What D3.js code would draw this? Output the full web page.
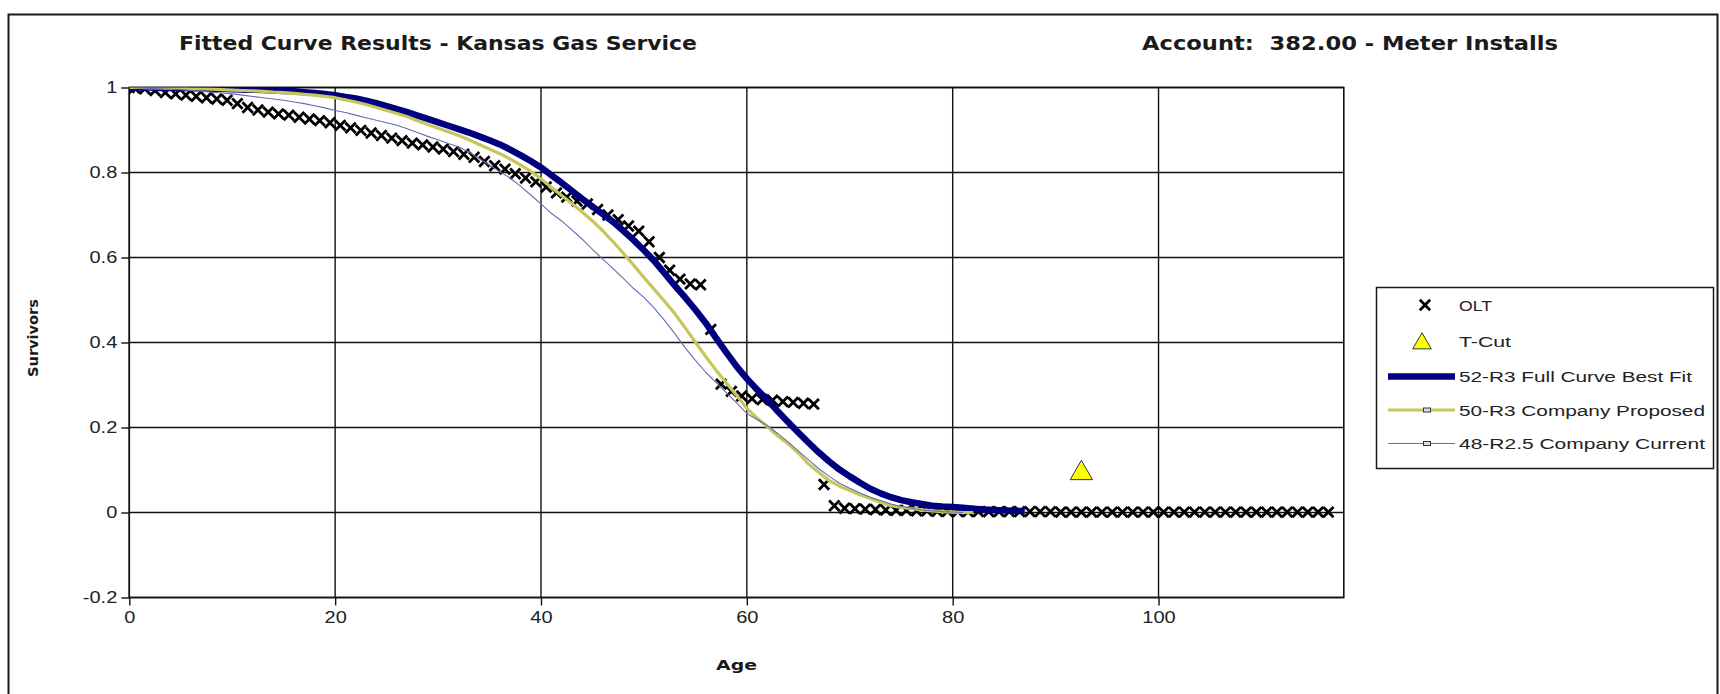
<!DOCTYPE html>
<html>
<head>
<meta charset="utf-8">
<script src="https://cdn.jsdelivr.net/npm/d3@7"></script>
<style>
  html, body { margin: 0; padding: 0; background: #ffffff; }
  svg { display: block; }
  text { white-space: pre; }
</style>
</head>
<body>
<svg id="chart" width="1720" height="694"></svg>
<script>
// ---- Observed life table (OLT) ----
const oltAges = [0, 0.5, 1.5, 2.5, 3.5, 4.5, 5.5, 6.5, 7.5, 8.5, 9.5,
  10.5, 11.5, 12.5, 13.5, 14.5, 15.5, 16.5, 17.5, 18.5, 19.5,
  20.5, 21.5, 22.5, 23.5, 24.5, 25.5, 26.5, 27.5, 28.5, 29.5,
  30.5, 31.5, 32.5, 33.5, 34.5, 35.5, 36.5, 37.5, 38.5, 39.5,
  40.5, 41.5, 42.5, 43.5, 44.5, 45.5, 46.5, 47.5, 48.5, 49.5,
  50.5, 51.5, 52.5, 53.5, 54.5, 55.5, 56.5, 57.5, 58.5, 59.5,
  60.5, 61.5, 62.5, 63.5, 64.5, 65.5, 66.5, 67.5, 68.5, 69.5,
  70.5, 71.5, 72.5, 73.5, 74.5, 75.5, 76.5, 77.5, 78.5, 79.5,
  80.5, 81.5, 82.5, 83.5, 84.5, 85.5, 86.5, 87.5, 88.5, 89.5,
  90.5, 91.5, 92.5, 93.5, 94.5, 95.5, 96.5, 97.5, 98.5, 99.5,
  100.5, 101.5, 102.5, 103.5, 104.5, 105.5, 106.5, 107.5, 108.5, 109.5,
  110.5, 111.5, 112.5, 113.5, 114.5, 115.5, 116.5];
const oltSurvivors = [1.000, 0.999, 0.997, 0.993, 0.988, 0.985, 0.982, 0.979, 0.976, 0.973, 0.970,
  0.962, 0.953, 0.947, 0.942, 0.938, 0.935, 0.930, 0.926, 0.922, 0.917,
  0.911, 0.905, 0.899, 0.893, 0.887, 0.881, 0.875, 0.869, 0.865, 0.860,
  0.855, 0.849, 0.843, 0.836, 0.826, 0.816, 0.808, 0.797, 0.787, 0.778,
  0.766, 0.752, 0.742, 0.733, 0.726, 0.713, 0.700, 0.689, 0.674, 0.662,
  0.637, 0.600, 0.570, 0.549, 0.538, 0.536, 0.431, 0.302, 0.285, 0.274,
  0.268, 0.266, 0.264, 0.261, 0.259, 0.257, 0.255, 0.066, 0.016, 0.010,
  0.009, 0.008, 0.007, 0.006, 0.005, 0.005, 0.004, 0.004, 0.003, 0.003,
  0.002, 0.002, 0.002, 0.002, 0.002, 0.002, 0.002, 0.002, 0.002, 0.002,
  0.001, 0.001, 0.001, 0.001, 0.001, 0.001, 0.001, 0.001, 0.001, 0.001,
  0.001, 0.001, 0.001, 0.001, 0.001, 0.001, 0.001, 0.001, 0.001, 0.001,
  0.001, 0.001, 0.001, 0.001, 0.001, 0.001, 0.001];

// ---- T-Cut point ----
const tcutAges = [92.5];
const tcutSurvivors = [0.10];

// ---- Iowa curves, one value per year of age starting at age 0 ----
const fit52R3 = [1.000, 1.000, 1.000, 0.999, 0.999, 0.999, 0.998, 0.998, 0.997, 0.997,
  0.996, 0.995, 0.995, 0.994, 0.993, 0.992, 0.991, 0.989, 0.987, 0.985,
  0.982, 0.978, 0.974, 0.969, 0.963, 0.956, 0.949, 0.942, 0.934, 0.926,
  0.918, 0.910, 0.902, 0.894, 0.885, 0.876, 0.866, 0.854, 0.841, 0.827,
  0.812, 0.794, 0.776, 0.757, 0.738, 0.720, 0.702, 0.684, 0.663, 0.641,
  0.617, 0.592, 0.563, 0.534, 0.506, 0.477, 0.446, 0.411, 0.377, 0.344,
  0.315, 0.289, 0.265, 0.238, 0.213, 0.188, 0.164, 0.141, 0.120, 0.101,
  0.085, 0.070, 0.056, 0.045, 0.036, 0.029, 0.024, 0.020, 0.016, 0.014,
  0.013, 0.011, 0.009, 0.007, 0.006, 0.005, 0.004, 0.003];
const proposed50R3 = [1.000, 1.000, 0.999, 0.999, 0.998, 0.998, 0.997, 0.997, 0.996, 0.995,
  0.994, 0.993, 0.992, 0.991, 0.989, 0.988, 0.986, 0.984, 0.982, 0.979,
  0.976, 0.971, 0.966, 0.960, 0.953, 0.946, 0.939, 0.931, 0.922, 0.913,
  0.904, 0.896, 0.887, 0.877, 0.866, 0.855, 0.844, 0.832, 0.818, 0.803,
  0.785, 0.765, 0.746, 0.727, 0.707, 0.686, 0.663, 0.637, 0.610, 0.582,
  0.553, 0.525, 0.497, 0.468, 0.435, 0.401, 0.367, 0.335, 0.305, 0.276,
  0.245, 0.222, 0.202, 0.180, 0.162, 0.140, 0.114, 0.094, 0.075, 0.062,
  0.052, 0.042, 0.033, 0.024, 0.016, 0.012, 0.009, 0.006, 0.004, 0.002,
  0.001, 0.000, 0.000];
const current48R25 = [1.000, 0.999, 0.998, 0.997, 0.996, 0.995, 0.993, 0.991, 0.989, 0.987,
  0.985, 0.982, 0.979, 0.976, 0.973, 0.970, 0.966, 0.962, 0.957, 0.952,
  0.946, 0.941, 0.935, 0.929, 0.923, 0.917, 0.911, 0.903, 0.894, 0.885,
  0.877, 0.868, 0.860, 0.848, 0.833, 0.817, 0.802, 0.787, 0.768, 0.747,
  0.726, 0.704, 0.686, 0.665, 0.643, 0.619, 0.596, 0.574, 0.551, 0.527,
  0.506, 0.481, 0.452, 0.421, 0.388, 0.358, 0.330, 0.306, 0.282, 0.258,
  0.233, 0.219, 0.204, 0.186, 0.166, 0.145, 0.124, 0.103, 0.085, 0.069,
  0.057, 0.046, 0.036, 0.028, 0.020, 0.014, 0.010, 0.006, 0.004, 0.002,
  0.001, 0.000];

// ---- Axes ----
const xTicks = [0, 20, 40, 60, 80, 100];
const xTickLabels = ["0", "20", "40", "60", "80", "100"];
const yTicks = [-0.2, 0, 0.2, 0.4, 0.6, 0.8, 1];
const yTickLabels = ["-0.2", "0", "0.2", "0.4", "0.6", "0.8", "1"];

const seriesNames = ["OLT", "T-Cut", "52-R3 Full Curve Best Fit", "50-R3 Company Proposed", "48-R2.5 Company Current"];
const titleLeft = "Fitted Curve Results - Kansas Gas Service";
const titleRight = "Account:  382.00 - Meter Installs";

// ---- Layout ----
const W = 1720, H = 694;
const plot = { left: 129.3, right: 1343.8, top: 87.5, bottom: 597.5 };
const TICKFONT = "'Liberation Sans', Arial, sans-serif";
const BOLDFONT = "'DejaVu Sans', Verdana, sans-serif";
const STRETCH = 1.25;

const svg = d3.select("#chart");
svg.append("rect").attr("width", W).attr("height", H).attr("fill", "#fff");

// outer chart frame
svg.append("rect")
  .attr("x", 8.5).attr("y", 14.5).attr("width", 1709).attr("height", 700)
  .attr("fill", "none").attr("stroke", "#1a1a1a").attr("stroke-width", 2);

const x = d3.scaleLinear().domain([0, 118]).range([plot.left, plot.right]);
const y = d3.scaleLinear().domain([-0.2, 1]).range([plot.bottom, plot.top]);

// gridlines
const grid = svg.append("g").attr("stroke", "#111").attr("stroke-width", 1.4);
grid.selectAll("line.gx").data(xTicks).join("line")
  .attr("x1", d => x(d)).attr("x2", d => x(d))
  .attr("y1", plot.top).attr("y2", plot.bottom);
grid.selectAll("line.gy").data(yTicks).join("line")
  .attr("x1", plot.left).attr("x2", plot.right)
  .attr("y1", d => y(d)).attr("y2", d => y(d));

// plot area border
svg.append("rect")
  .attr("x", plot.left).attr("y", plot.top)
  .attr("width", plot.right - plot.left).attr("height", plot.bottom - plot.top)
  .attr("fill", "none").attr("stroke", "#111").attr("stroke-width", 1.6);

// axes
const xAxis = svg.append("g")
  .attr("transform", `translate(0,${plot.bottom})`)
  .call(d3.axisBottom(x).tickValues(xTicks).tickFormat((d, i) => xTickLabels[i]).tickSize(8).tickPadding(6));
const yAxis = svg.append("g")
  .attr("transform", `translate(${plot.left},0)`)
  .call(d3.axisLeft(y).tickValues(yTicks).tickFormat((d, i) => yTickLabels[i]).tickSize(8).tickPadding(4));
[xAxis, yAxis].forEach(g => {
  g.select(".domain").remove();
  g.selectAll(".tick line").attr("stroke", "#111").attr("stroke-width", 1.4);
  g.selectAll(".tick text")
    .attr("font-family", TICKFONT).attr("font-size", 16).attr("fill", "#222");
});
xAxis.selectAll(".tick text").attr("transform", `scale(${STRETCH},1)`);
yAxis.selectAll(".tick text").attr("transform", `scale(${STRETCH},1)`).attr("x", -12 / STRETCH);

// titles
function label(txt, cx, cy, size, len, anchor) {
  return svg.append("text")
    .attr("x", cx).attr("y", cy)
    .attr("font-family", BOLDFONT).attr("font-weight", "bold")
    .attr("font-size", size).attr("fill", "#1a1a1a")
    .attr("text-anchor", anchor || "start")
    .attr("textLength", len).attr("lengthAdjust", "spacingAndGlyphs")
    .text(txt);
}
label(titleLeft, 179, 50, 19.5, 518);
label(titleRight, 1142, 50, 19.5, 416);
label("Age", 736.5, 670, 14.5, 41, "middle");
svg.append("text")
  .attr("transform", "translate(38,338) rotate(-90)")
  .attr("font-family", BOLDFONT).attr("font-weight", "bold")
  .attr("font-size", 13.5).attr("fill", "#1a1a1a").attr("text-anchor", "middle")
  .attr("textLength", 78).attr("lengthAdjust", "spacingAndGlyphs")
  .text("Survivors");

// clip to plot area
svg.append("clipPath").attr("id", "plotClip")
  .append("rect").attr("x", plot.left).attr("y", plot.top)
  .attr("width", plot.right - plot.left).attr("height", plot.bottom - plot.top);
const marks = svg.append("g").attr("clip-path", "url(#plotClip)");

// OLT markers
const xSym = d3.symbol().type(d3.symbolX).size(72);
const oltData = oltAges.map((a, i) => ({ age: a, v: oltSurvivors[i] }));
marks.append("g").selectAll("path").data(oltData).join("path")
  .attr("transform", d => `translate(${x(d.age)},${y(d.v)})`)
  .attr("d", xSym())
  .attr("fill", "none").attr("stroke", "#000").attr("stroke-width", 2.8);

// T-Cut marker
const triSize = 215, triH = Math.sqrt(triSize * 4 / Math.sqrt(3)) * Math.sqrt(3) / 2;
const tri = d3.symbol().type(d3.symbolTriangle).size(triSize);
marks.append("g").selectAll("path").data(tcutAges.map((a, i) => ({ age: a, v: tcutSurvivors[i] }))).join("path")
  .attr("transform", d => `translate(${x(d.age)},${y(d.v) + triH / 6})`)
  .attr("d", tri())
  .attr("fill", "#ffff00").attr("stroke", "#333").attr("stroke-width", 1);

// fitted curves
const line = d3.line().x((v, i) => x(i)).y(v => y(v));
const curves = [
  { values: fit52R3, color: "#00007f", width: 6.5 },
  { values: proposed50R3, color: "#c6c65a", width: 3.2 },
  { values: current48R25, color: "#6a6ab0", width: 1.1 }
];
marks.append("g").selectAll("path").data(curves).join("path")
  .attr("d", d => line(d.values))
  .attr("fill", "none")
  .attr("stroke", d => d.color)
  .attr("stroke-width", d => d.width)
  .attr("stroke-linejoin", "round");

// ---- Legend ----
const lg = svg.append("g").attr("transform", "translate(1376,287)");
lg.append("rect").attr("x", 0.5).attr("y", 0.5).attr("width", 337).attr("height", 181)
  .attr("fill", "#fff").attr("stroke", "#1a1a1a").attr("stroke-width", 1.5);
const rowY = [18, 54.5, 89.5, 123, 156.5];
const textLens = [33, 52, 233, 246, 246];
const symX = 49;
seriesNames.forEach((name, i) => {
  const ry = rowY[i];
  if (i === 0) {
    lg.append("path").attr("transform", `translate(${symX},${ry})`).attr("d", xSym())
      .attr("fill", "none").attr("stroke", "#000").attr("stroke-width", 2.8);
  } else if (i === 1) {
    lg.append("path").attr("transform", `translate(${symX - 3},${ry + 2})`)
      .attr("d", d3.symbol().type(d3.symbolTriangle).size(150)())
      .attr("fill", "#ffff00").attr("stroke", "#333").attr("stroke-width", 1);
  } else {
    const c = curves[i - 2];
    lg.append("line").attr("x1", 12).attr("x2", 79).attr("y1", ry).attr("y2", ry)
      .attr("stroke", c.color).attr("stroke-width", c.width);
    if (i > 2) {
      lg.append("rect").attr("x", symX + 2 - 3.5).attr("y", ry - 2).attr("width", 7).attr("height", 4)
        .attr("fill", "#ddd").attr("stroke", "#333").attr("stroke-width", 1);
    }
  }
  lg.append("text").attr("x", 83).attr("y", ry + 5.5)
    .attr("font-family", TICKFONT).attr("font-size", 15.5).attr("fill", "#222")
    .attr("textLength", textLens[i]).attr("lengthAdjust", "spacingAndGlyphs")
    .text(name);
});
</script>
</body>
</html>
